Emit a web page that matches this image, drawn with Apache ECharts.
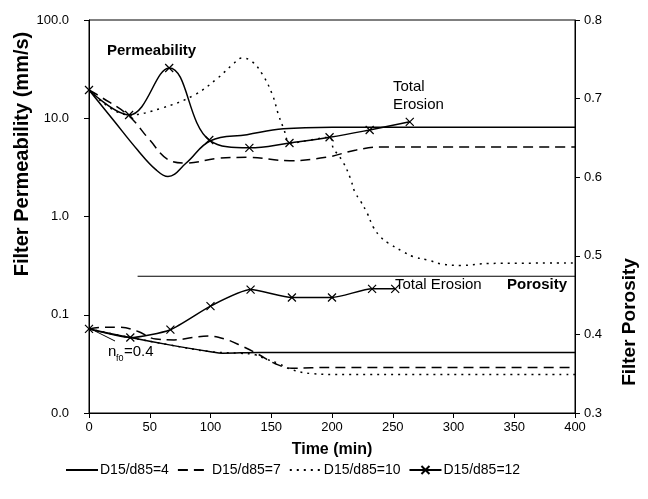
<!DOCTYPE html>
<html>
<head>
<meta charset="utf-8">
<script src="https://cdn.jsdelivr.net/npm/echarts@6/dist/echarts.min.js"></script>
<style>html,body{margin:0;padding:0;background:#fff;}#c{width:648px;height:499px;}</style>
</head>
<body>
<div id="c"></div>
<script>
// ---- data ----
const xTicks = [0, 50, 100, 150, 200, 250, 300, 350, 400];
const seriesNames = ['D15/d85=4', 'D15/d85=7', 'D15/d85=10', 'D15/d85=12'];

// Filter permeability (mm/s), log axis
const perm4 = [[0,19.4],[20,9.6],[40,4.75],[55,3.0],[65,2.55],[80,3.5],[100,5.9],[130,6.8],[160,7.8],[200,8.1],[400,8.1]];
const perm7 = [[0,19.4],[10,16.4],[32,10.8],[50,6.0],[65,3.8],[80,3.5],[105,3.9],[130,4.0],[165,3.7],[195,4.0],[220,4.75],[240,5.1],[400,5.1]];
const perm10 = [[0,19.4],[33,10.8],[60,12.7],[87,17.3],[106,25.7],[118,35],[126,41],[134,38],[143,27.6],[151,17.3],[156,10.8],[160,8.0],[166,5.6],[182,6.0],[198,6.4],[201,5.0],[209,3.6],[215,2.47],[219,1.75],[223,1.47],[229,1.08],[234,0.78],[240,0.62],[246,0.54],[259,0.435],[267,0.39],[279,0.36],[292,0.325],[306,0.318],[330,0.333],[400,0.336]];
const perm12 = [[0,19.4],[33,10.8],[66,32.5],[99,6.0],[132,5.0],[165,5.6],[198,6.4],[231,7.6],[264,9.2]];

// Filter porosity, right axis
const por4 = [[0,0.407],[34,0.396],[65,0.387],[100,0.378],[110,0.376],[140,0.377],[400,0.377]];
const por7 = [[0,0.407],[10,0.409],[25,0.409],[40,0.404],[55,0.394],[70,0.393],[85,0.396],[98,0.398],[112,0.394],[126,0.385],[139,0.375],[153,0.363],[167,0.357],[200,0.358],[400,0.358]];
const por10 = [[0,0.407],[34,0.396],[65,0.387],[100,0.378],[125,0.376],[137,0.374],[145,0.369],[156,0.363],[167,0.355],[184,0.350],[203,0.349],[400,0.349]];
const por12 = [[0,0.407],[34,0.396],[67,0.406],[100,0.436],[133,0.457],[167,0.447],[200,0.447],[233,0.458],[252,0.458]];
const porTotalErosion = [[40,0.474],[400,0.474]];

// ---- chart ----
const FONT = '"Liberation Sans", Arial, sans-serif';
const CROSS = 'path://M0,0L10,10M10,0L0,10';
const dash = [10, 6];
const dot = [2, 5];

function line(name, data, yIdx, type, opts) {
  return Object.assign({
    name: name, type: 'line', data: data, yAxisIndex: yIdx,
    smooth: 0.4, symbol: 'circle', showSymbol: false, z: 3,
    lineStyle: { color: '#000', width: 1.5, type: type },
    itemStyle: { color: 'rgba(0,0,0,0)' },
    emphasis: { disabled: true }, animation: false
  }, opts || {});
}
const crossOpts = {
  symbol: CROSS, symbolSize: 8, showSymbol: true,
  itemStyle: { color: '#000', borderColor: '#000', borderWidth: 1.2 }
};

const chart = echarts.init(document.getElementById('c'), null, { renderer: 'canvas' });
chart.setOption({
  animation: false,
  backgroundColor: '#fff',
  textStyle: { fontFamily: FONT, color: '#000' },
  grid: { left: 89, right: 73, top: 20, bottom: 86, show: true, borderColor: '#000', borderWidth: 1, containLabel: false },
  legend: {
    data: seriesNames, left: 60, top: 458, itemWidth: 32, itemHeight: 10, itemGap: 8,
    textStyle: { fontSize: 14, color: '#000', fontFamily: FONT, padding: [0, 0, 0, -3] },
    inactiveColor: '#000'
  },
  xAxis: {
    type: 'value', min: 0, max: 400, interval: 50,
    name: 'Time (min)', nameLocation: 'middle', nameGap: 29,
    nameTextStyle: { fontSize: 16, fontWeight: 'bold', color: '#000', fontFamily: FONT },
    axisLine: { lineStyle: { color: '#000' } },
    axisTick: { show: true, length: 5, lineStyle: { color: '#000' } },
    axisLabel: { fontSize: 13, color: '#000', margin: 8, fontFamily: FONT,
      formatter: v => xTicks.includes(v) ? String(v) : '' },
    splitLine: { show: false }
  },
  yAxis: [
    {
      type: 'log', logBase: 10, min: 0.01, max: 100, splitNumber: 4, position: 'left',
      axisLine: { show: true, lineStyle: { color: '#000' } },
      axisTick: { show: true, length: 5, lineStyle: { color: '#000' } },
      axisLabel: { fontSize: 13, color: '#000', margin: 20, fontFamily: FONT,
        formatter: v => Number(v).toFixed(1) },
      splitLine: { show: false }, minorTick: { show: false }
    },
    {
      type: 'value', min: 0.3, max: 0.8, interval: 0.1, position: 'right',
      axisLine: { show: true, lineStyle: { color: '#000' } },
      axisTick: { show: true, length: 5, lineStyle: { color: '#000' } },
      axisLabel: { fontSize: 13, color: '#000', margin: 9, fontFamily: FONT,
        formatter: v => Number(v).toFixed(1) },
      splitLine: { show: false }
    }
  ],
  series: [
    line(seriesNames[0], perm4, 0, 'solid'),
    line(seriesNames[1], perm7, 0, dash),
    line(seriesNames[2], perm10, 0, dot),
    line(seriesNames[3], perm12, 0, 'solid', crossOpts),
    line(seriesNames[0], por4, 1, 'solid'),
    line(seriesNames[1], por7, 1, dash),
    line(seriesNames[2], por10, 1, dot),
    line(seriesNames[3], por12, 1, 'solid', Object.assign({}, crossOpts, { smooth: 0.2 })),
    line('Total erosion porosity', porTotalErosion, 1, 'solid', { smooth: false, lineStyle: { color: '#000', width: 1.2 } })
  ],
  graphic: [
    { type: 'text', x: 22, y: 154, rotation: Math.PI / 2,
      style: { text: 'Filter Permeability (mm/s)', fontSize: 20, fontWeight: 'bold', fontFamily: FONT, fill: '#000', align: 'center', verticalAlign: 'middle' } },
    { type: 'text', x: 630, y: 322, rotation: Math.PI / 2,
      style: { text: 'Filter Porosity', fontSize: 19, fontWeight: 'bold', fontFamily: FONT, fill: '#000', align: 'center', verticalAlign: 'middle' } },
    { type: 'text', x: 107, y: 51,
      style: { text: 'Permeability', fontSize: 15, fontWeight: 'bold', fontFamily: FONT, fill: '#000', align: 'left', verticalAlign: 'middle' } },
    { type: 'text', x: 393, y: 96,
      style: { text: 'Total\nErosion', fontSize: 15, lineHeight: 18, fontFamily: FONT, fill: '#000', align: 'left', verticalAlign: 'middle' } },
    { type: 'text', x: 395, y: 285,
      style: { text: 'Total Erosion', fontSize: 15, fontFamily: FONT, fill: '#000', align: 'left', verticalAlign: 'middle' } },
    { type: 'text', x: 507, y: 285,
      style: { text: 'Porosity', fontSize: 15, fontWeight: 'bold', fontFamily: FONT, fill: '#000', align: 'left', verticalAlign: 'middle' } },
    { type: 'text', x: 108, y: 352,
      style: { text: 'n', fontSize: 15, fontFamily: FONT, fill: '#000', align: 'left', verticalAlign: 'middle' } },
    { type: 'text', x: 116, y: 359,
      style: { text: 'f0', fontSize: 9, fontFamily: FONT, fill: '#000', align: 'left', verticalAlign: 'middle' } },
    { type: 'text', x: 124, y: 352,
      style: { text: '=0.4', fontSize: 15, fontFamily: FONT, fill: '#000', align: 'left', verticalAlign: 'middle' } },
    { type: 'line', shape: { x1: 93, y1: 330, x2: 115, y2: 341 }, style: { stroke: '#000', lineWidth: 1 } }
  ]
});
</script>
</body>
</html>
